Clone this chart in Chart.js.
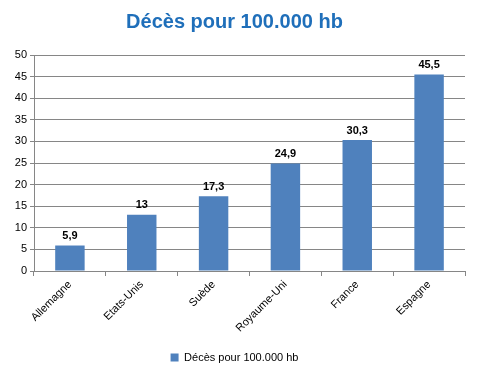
<!DOCTYPE html>
<html><head><meta charset="utf-8">
<script src="https://cdn.jsdelivr.net/npm/chart.js@4"></script>
<style>html,body{margin:0;padding:0;background:#fff}#wrap{width:478px;height:381px}</style>
</head><body><div id="wrap"><canvas id="c" width="478" height="381"></canvas></div>
<script>
const categories = ["Allemagne", "Etats-Unis", "Suède", "Royaume-Uni", "France", "Espagne"];
const deaths = [5.9, 13, 17.3, 24.9, 30.3, 45.5];
const seriesName = "Décès pour 100.000 hb";
const titleText = "Décès pour 100.000 hb";
const yTicks = [0, 5, 10, 15, 20, 25, 30, 35, 40, 45, 50];

const fmt = v => String(v).replace('.', ',');
const FONT = "'Liberation Sans', Arial, sans-serif";

const valueLabels = {
  id: 'valueLabels',
  afterDatasetsDraw(chart) {
    const ctx = chart.ctx;
    const meta = chart.getDatasetMeta(0);
    ctx.save();
    ctx.font = "bold 11px " + FONT;
    ctx.fillStyle = '#000';
    ctx.textAlign = 'center';
    ctx.textBaseline = 'bottom';
    meta.data.forEach((bar, i) => {
      ctx.fillText(fmt(chart.data.datasets[0].data[i]), bar.x, bar.y - 4);
    });
    ctx.restore();
  }
};

new Chart(document.getElementById('c'), {
  type: 'bar',
  data: {
    labels: categories,
    datasets: [{
      label: seriesName,
      data: deaths,
      backgroundColor: '#4F81BD',
      borderWidth: 0,
      categoryPercentage: 1,
      barPercentage: 0.41
    }]
  },
  options: {
    responsive: false,
    animation: false,
    layout: { padding: { left: 4, right: 13, top: 0, bottom: 8 } },
    plugins: {
      title: {
        display: true,
        text: titleText,
        color: '#1F6FBA',
        font: { family: FONT, size: 20, weight: 'bold' },
        padding: { top: 10, bottom: 21 }
      },
      legend: {
        display: true,
        position: 'bottom',
        labels: {
          color: '#000',
          font: { family: FONT, size: 11 },
          boxWidth: 8, boxHeight: 8,
          padding: 10
        }
      },
      tooltip: { enabled: false }
    },
    scales: {
      x: {
        grid: { drawOnChartArea: false, color: '#868686', tickLength: 5, offset: true },
        border: { color: '#868686' },
        ticks: { color: '#000', font: { family: FONT, size: 11 }, maxRotation: 45, minRotation: 45, padding: 2 },
        afterFit(s) { s.height = 71; }
      },
      y: {
        min: 0, max: 50,
        afterBuildTicks(s) { s.ticks = yTicks.map(v => ({ value: v })); },
        grid: { color: '#868686', tickLength: 4 },
        border: { color: '#868686' },
        ticks: { color: '#000', font: { family: FONT, size: 11 }, padding: 3 },
        afterFit(s) { s.width = 30; }
      }
    }
  },
  plugins: [valueLabels]
});
</script></body></html>
